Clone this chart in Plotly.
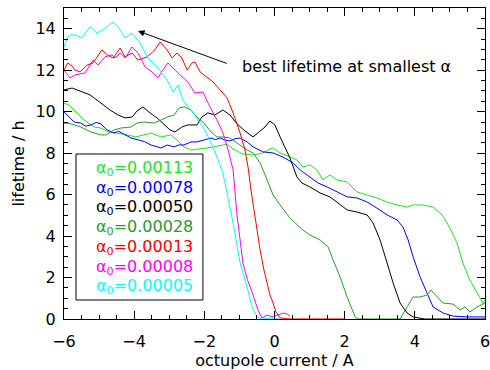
import plotly.graph_objects as go

# ---- data (octupole current in A, lifetime in h) ----
alpha_labels = ["0.00113", "0.00078", "0.00050", "0.00028", "0.00013", "0.00008", "0.00005"]
colors = ["#19e619", "#0000ff", "#000000", "#2a9a2a", "#ff0000", "#ff00ff", "#00ffff"]

x_a113 = [-6.0, -5.86, -5.63, -5.43, -5.14, -4.95, -4.72, -4.49, -4.20, -3.95, -3.72, -3.52, -3.23, -2.95,
          -2.78, -2.58, -2.38, -2.21, -1.92, -1.72, -1.50, -1.35, -1.18, -0.90, -0.61, -0.33, -0.13, -0.04,
          0.16, 0.44, 0.64, 0.81, 1.01, 1.21, 1.38, 1.58, 1.78, 2.07, 2.35, 2.64, 2.92, 3.21, 3.49, 3.78,
          3.95, 4.23, 4.52, 4.78, 5.00, 5.20, 5.37, 5.57, 5.77, 5.94, 6.0]
y_a113 = [10.42, 10.32, 9.94, 9.60, 9.26, 9.21, 9.02, 8.97, 8.88, 8.78, 8.88, 8.97, 8.78, 8.88,
          8.63, 8.30, 8.15, 8.20, 8.25, 8.30, 8.39, 8.44, 8.20, 7.96, 7.91, 8.01, 8.20, 8.25,
          8.01, 7.81, 7.67, 7.33, 7.43, 7.19, 6.71, 6.95, 6.71, 6.61, 6.13, 5.98, 5.84, 5.64, 5.50, 5.40,
          5.50, 5.50, 5.40, 5.02, 4.39, 3.67, 2.70, 1.88, 1.25, 0.77, 0.92]

x_a078 = [-6.0, -5.85, -5.71, -5.52, -5.38, -5.23, -5.08, -4.95, -4.77, -4.57, -4.45, -4.35, -4.22, -4.09,
          -3.86, -3.70, -3.52, -3.38, -3.23, -3.06, -2.86, -2.72, -2.58, -2.38, -2.21, -2.01, -1.81, -1.68,
          -1.55, -1.40, -1.27, -1.12, -0.98, -0.78, -0.61, -0.33, -0.04, 0.24, 0.53, 0.73, 1.01, 1.24, 1.50,
          1.78, 2.07, 2.35, 2.64, 2.92, 3.21, 3.49, 3.66, 3.81, 3.95, 4.15, 4.35, 4.52, 4.80, 5.09, 5.49, 6.0]
y_a078 = [9.99, 9.75, 9.50, 9.45, 9.30, 9.36, 9.48, 9.41, 9.12, 8.97, 9.05, 8.97, 8.85, 8.73,
          8.63, 8.55, 8.39, 8.32, 8.25, 8.39, 8.30, 8.40, 8.39, 8.54, 8.54, 8.63, 8.73, 8.65,
          8.73, 8.62, 8.59, 8.70, 8.73, 8.54, 8.30, 8.06, 8.01, 7.81, 7.53, 7.19, 6.85, 6.56, 6.37,
          6.13, 5.89, 5.84, 5.64, 5.35, 5.02, 4.78, 4.44, 3.81, 3.00, 2.03, 1.25, 0.58, 0.29, 0.14, 0.10, 0.10]

x_a050 = [-6.0, -5.77, -5.63, -5.49, -5.26, -5.06, -4.89, -4.69, -4.46, -4.26, -4.06, -3.92, -3.75, -3.55,
          -3.35, -3.18, -2.98, -2.84, -2.64, -2.47, -2.21, -2.07, -1.90, -1.70, -1.47, -1.27, -1.07, -0.84,
          -0.61, -0.41, -0.27, -0.13, 0.01, 0.16, 0.30, 0.44, 0.64, 0.78, 1.01, 1.30, 1.58, 1.87, 2.07,
          2.35, 2.64, 2.81, 3.01, 3.21, 3.38, 3.58, 3.78, 3.95, 4.29, 6.0]
y_a050 = [11.05, 11.14, 11.05, 10.95, 10.81, 10.56, 10.32, 10.08, 9.84, 9.70, 9.74, 10.03, 10.23, 9.94,
          9.70, 9.45, 9.12, 9.02, 9.26, 9.36, 9.36, 9.74, 9.94, 9.84, 10.08, 9.84, 9.41, 9.07,
          8.78, 9.07, 9.26, 9.55, 9.36, 8.78, 8.30, 7.77, 6.85, 6.56, 6.37, 6.08, 5.89, 5.50, 5.26,
          5.16, 5.02, 4.63, 3.81, 2.70, 1.74, 0.77, 0.29, 0.10, 0.0, 0.0]

x_a028 = [-6.0, -5.80, -5.52, -5.23, -4.95, -4.80, -4.57, -4.38, -4.09, -3.92, -3.72, -3.43, -3.23, -3.06,
          -2.86, -2.72, -2.58, -2.38, -2.21, -2.01, -1.81, -1.64, -1.47, -1.27, -1.07, -0.78, -0.61, -0.41,
          -0.21, -0.04, 0.16, 0.44, 0.81, 1.01, 1.30, 1.53, 1.67, 1.87, 2.07, 2.30, 2.38, 3.58, 3.78, 3.95,
          4.15, 4.35, 4.46, 4.63, 4.80, 5.09, 5.29, 5.43, 5.57, 5.77, 6.0]
y_a028 = [9.45, 9.41, 9.26, 9.02, 8.88, 8.88, 9.12, 9.21, 9.26, 9.45, 9.50, 9.45, 9.60, 9.74,
          9.84, 10.18, 10.23, 10.08, 9.74, 9.45, 9.02, 8.78, 8.78, 8.73, 8.49, 8.15, 8.01, 7.53,
          6.71, 5.98, 5.50, 4.87, 4.29, 4.05, 3.81, 3.47, 2.85, 2.03, 1.06, 0.10, 0.0, 0.0, 0.58, 1.06,
          1.06, 1.16, 1.40, 1.06, 0.77, 0.72, 0.43, 0.58, 0.34, 0.58, 0.77]

x_a013 = [-6.0, -5.89, -5.77, -5.69, -5.54, -5.34, -5.17, -5.03, -4.92, -4.77, -4.60, -4.40, -4.26, -4.06,
          -3.89, -3.63, -3.41, -3.26, -3.06, -2.92, -2.78, -2.64, -2.49, -2.35, -2.27, -2.12, -1.92, -1.75,
          -1.55, -1.35, -1.18, -0.98, -0.84, -0.75, -0.67, -0.58, -0.50, -0.41, -0.30, -0.21, -0.13, -0.04,
          0.04, 0.16, 0.44, 2.01]
y_a013 = [12.01, 12.35, 12.20, 12.01, 11.92, 12.25, 12.35, 12.74, 12.98, 12.74, 12.59, 13.07, 12.64, 12.83,
          12.49, 12.64, 12.98, 13.36, 12.98, 12.59, 12.83, 12.59, 12.01, 12.35, 12.40, 11.92, 11.67, 11.43,
          11.05, 10.66, 9.94, 8.97, 8.15, 7.28, 6.22, 5.16, 4.20, 3.33, 2.36, 1.74, 1.16, 0.77,
          0.34, 0.05, 0.0, 0.0]

x_a008 = [-6.0, -5.83, -5.69, -5.40, -5.17, -5.03, -4.83, -4.63, -4.55, -4.40, -4.26, -4.06, -3.89, -3.69,
          -3.49, -3.32, -3.18, -3.04, -2.84, -2.64, -2.47, -2.27, -2.04, -1.84, -1.64, -1.47, -1.32, -1.18,
          -1.12, -1.07, -0.98, -0.90, -0.78, -0.64, -0.47, -0.36, -0.21, -0.04, 0.10, 0.24, 0.36, 0.44]
y_a008 = [12.01, 11.63, 11.77, 11.87, 12.49, 12.25, 12.64, 12.74, 12.59, 12.83, 12.59, 13.12, 12.83, 12.16,
          11.92, 11.63, 12.01, 12.35, 12.01, 11.67, 11.43, 10.90, 10.95, 10.23, 9.60, 8.97, 8.15, 7.19,
          5.98, 5.02, 3.81, 2.70, 1.93, 1.30, 0.43, 0.05, 0.19, 0.10, 0.19, 0.29, 0.24, 0.14]

x_a005 = [-6.0, -5.92, -5.83, -5.69, -5.49, -5.26, -5.06, -4.89, -4.60, -4.46, -4.26, -4.06, -3.83, -3.61,
          -3.35, -3.06, -2.89, -2.75, -2.61, -2.32, -2.04, -1.84, -1.64, -1.47, -1.32, -1.18, -0.98, -0.78,
          -0.64, -0.50, -0.36, -0.13, 0.01, 0.15]
y_a005 = [13.12, 13.50, 13.70, 13.70, 13.56, 14.09, 13.80, 13.94, 14.33, 14.09, 13.56, 13.80, 13.31, 12.59,
          12.16, 11.53, 10.95, 11.29, 10.56, 9.94, 9.26, 8.63, 7.81, 7.04, 5.80, 4.63, 2.70, 1.54,
          0.58, 0.10, 0.0, 0.05, 0.0, 0.04]

series_x = [x_a113, x_a078, x_a050, x_a028, x_a013, x_a008, x_a005]
series_y = [y_a113, y_a078, y_a050, y_a028, y_a013, y_a008, y_a005]

annot_text = "best lifetime at smallest \u03b1"
arrow_head = (-3.89, 13.89)
arrow_tail = (-1.32, 12.30)
annot_pos = (-0.98, 12.16)

FONT = "DejaVu Sans"

fig = go.Figure()
for xs, ys, c, lab in zip(series_x, series_y, colors, alpha_labels):
    fig.add_trace(go.Scatter(x=xs, y=ys, mode="lines", line=dict(color=c, width=1),
                             name=lab, showlegend=False, hoverinfo="skip"))

axis_common = dict(showline=True, linecolor="black", linewidth=1, mirror="ticks",
                   ticks="inside", ticklen=8, tickwidth=1, tickcolor="black",
                   showgrid=False, zeroline=False, ticklabeloverflow="allow",
                   tickfont=dict(family=FONT, size=16, color="black"))

fig.update_xaxes(range=[-6, 6], dtick=2, tick0=-6,
                 minor=dict(dtick=0.5, ticks="inside", ticklen=4, tickcolor="black", showgrid=False),
                 title=dict(text="octupole current / A", font=dict(family=FONT, size=16, color="black"), standoff=6),
                 ticklabelstandoff=8, **axis_common)
fig.update_yaxes(range=[0, 15], dtick=2, tick0=0,
                 minor=dict(dtick=0.5, ticks="inside", ticklen=4, tickcolor="black", showgrid=False),
                 title=dict(text="lifetime / h", font=dict(family=FONT, size=16, color="black"), standoff=6),
                 ticklabelstandoff=4, **axis_common)

# arrow annotation
fig.add_annotation(x=arrow_head[0], y=arrow_head[1], ax=arrow_tail[0], ay=arrow_tail[1],
                   xref="x", yref="y", axref="x", ayref="y", text="", showarrow=True,
                   arrowhead=2, arrowsize=1.3, arrowwidth=1, arrowcolor="black")
fig.add_annotation(x=annot_pos[0], y=annot_pos[1], xref="x", yref="y", text=annot_text,
                   showarrow=False, xanchor="left", yanchor="middle",
                   font=dict(family=FONT, size=16, color="black"))

# legend box (text legend, as in the original)
fig.add_shape(type="rect", xref="paper", yref="paper", x0=0.0285, x1=0.330, y0=0.0611, y1=0.5305,
              line=dict(color="black", width=1), fillcolor="white", layer="above")
leg_y = [0.4855, 0.421, 0.357, 0.293, 0.2315, 0.167, 0.106]
for lab, c, yy in zip(alpha_labels, colors, leg_y):
    fig.add_annotation(x=0.311, y=yy, xref="paper", yref="paper",
                       text="\u03b1<sub>0</sub>=" + lab, showarrow=False,
                       xanchor="right", yanchor="middle",
                       font=dict(family=FONT, size=16, color=c))

fig.update_layout(width=490, height=370, margin=dict(l=64, r=5, t=8, b=51, autoexpand=False),
                  paper_bgcolor="white", plot_bgcolor="white", showlegend=False,
                  font=dict(family=FONT, size=16, color="black"))

fig.write_html("out.html")
